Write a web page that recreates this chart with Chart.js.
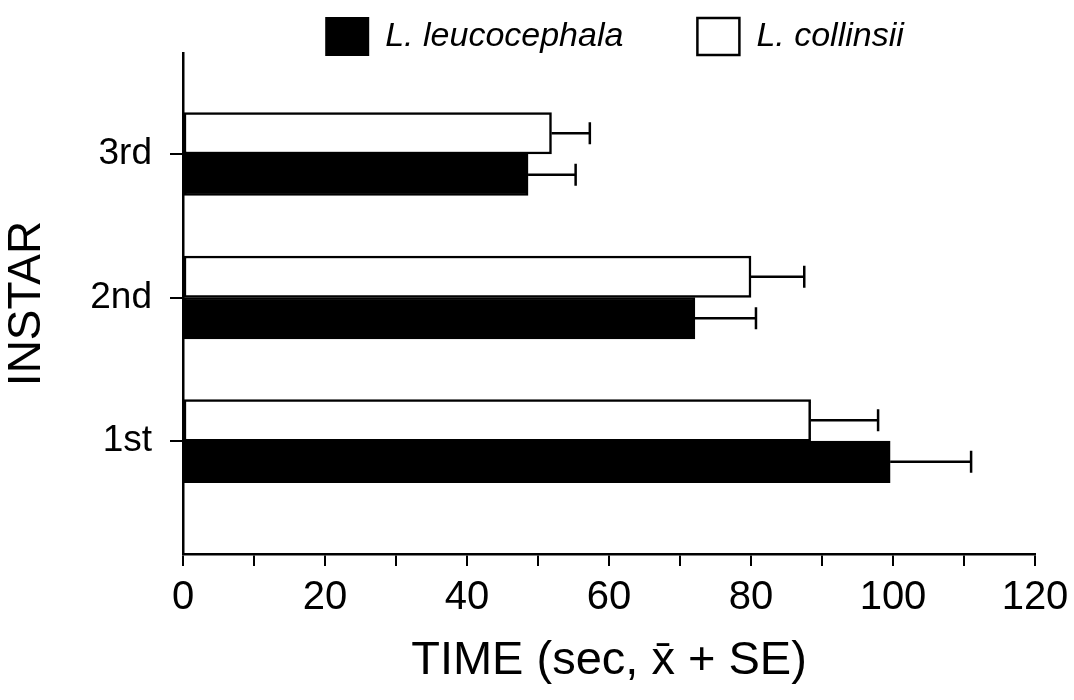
<!DOCTYPE html>
<html><head><meta charset="utf-8">
<script src="https://cdn.jsdelivr.net/npm/chart.js@4.4.1/dist/chart.umd.min.js"></script>
<style>html,body{margin:0;padding:0;background:#fff}#wrap{width:1074px;height:700px}</style>
</head><body><div id="wrap"><canvas id="c" width="1074" height="700"></canvas></div>
<script>
// ---- data ----
const categories = ['1st', '2nd', '3rd'];
const categoryPositions = [0, 1, 2];
const collinsiiLabel = 'L. collinsii';
const leucocephalaLabel = 'L. leucocephala';
const collinsiiMean = [88.4, 80.0, 51.9];
const collinsiiSE = [9.5, 7.5, 5.4];
const leucocephalaMean = [99.6, 72.1, 48.6];
const leucocephalaSE = [11.4, 8.6, 6.7];
const xTickLabels = [0, 20, 40, 60, 80, 100, 120];
const xTitle = 'TIME (sec, x\u0304 + SE)';
const yTitle = 'INSTAR';

Chart.defaults.font.family = '"Liberation Sans", Arial, Helvetica, sans-serif';
Chart.defaults.color = '#000';

const toPoints = (vals) => vals.map((v, i) => ({ x: v, y: categoryPositions[i] }));

const errorBars = {
  id: 'errorBars',
  afterDatasetsDraw(chart) {
    const ctx = chart.ctx;
    const xs = chart.scales.x;
    chart.data.datasets.forEach((ds, di) => {
      const meta = chart.getDatasetMeta(di);
      meta.data.forEach((bar, j) => {
        const v = ds.data[j].x;
        const e = ds.errors[j];
        const x0 = xs.getPixelForValue(v);
        const x1 = xs.getPixelForValue(v + e);
        const y = bar.y;
        ctx.save();
        ctx.strokeStyle = '#000';
        ctx.lineWidth = 2.5;
        ctx.beginPath();
        ctx.moveTo(x0, y); ctx.lineTo(x1, y);
        ctx.moveTo(x1, y - 11); ctx.lineTo(x1, y + 11);
        ctx.stroke();
        ctx.restore();
      });
    });
  }
};

const legendPlace = {
  id: 'legendPlace',
  afterLayout(chart) {
    const L = chart.legend;
    const pad = L.options.labels.padding;
    const dx = 615 - (L.left + L.right) / 2;
    L.left += dx; L.right += dx;
    L.top = 18 - pad; L.bottom = L.top + 140;
  }
};

new Chart(document.getElementById('c'), {
  type: 'bar',
  data: {
    datasets: [
      { label: collinsiiLabel, data: toPoints(collinsiiMean), errors: collinsiiSE,
        backgroundColor: '#fff', borderColor: '#000', borderWidth: 2.5 },
      { label: leucocephalaLabel, data: toPoints(leucocephalaMean), errors: leucocephalaSE,
        backgroundColor: '#000', borderColor: '#000', borderWidth: 2 }
    ]
  },
  options: {
    indexAxis: 'y',
    responsive: false,
    animation: false,
    barThickness: 41.5,
    borderSkipped: false,
    layout: { padding: { top: 0, left: 0, right: 39, bottom: 0 } },
    plugins: {
      tooltip: { enabled: false },
      legend: {
        position: 'top',
        maxHeight: 53,
        labels: {
          boxWidth: 42, boxHeight: 37, padding: 74, color: '#000',
          font: { size: 34, style: 'italic' },
          sort: (a, b) => b.datasetIndex - a.datasetIndex
        }
      }
    },
    scales: {
      x: {
        type: 'linear', min: 0, max: 120,
        ticks: { stepSize: 10, autoSkip: false, maxRotation: 0, padding: 8,
          font: { size: 40 }, color: '#000',
          callback: (v) => xTickLabels.includes(v) ? String(v) : '' },
        grid: { drawOnChartArea: false, tickLength: 12, color: '#000', lineWidth: 2 },
        border: { color: '#000', width: 2.5 },
        title: { display: true, text: xTitle, font: { size: 47 }, color: '#000', padding: { top: 0, bottom: 11 } },
        afterFit: (s) => { s.height = 146; s.paddingLeft = 0; s.paddingRight = 0; }
      },
      y: {
        type: 'linear', min: -0.787, max: 2.704, offset: false,
        afterBuildTicks: (s) => { s.ticks = categoryPositions.map(v => ({ value: v })); },
        ticks: { autoSkip: false, padding: 18, font: { size: 37 }, color: '#000',
          callback: (v) => categories[categoryPositions.indexOf(v)] ?? '' },
        grid: { offset: false, drawOnChartArea: false, tickLength: 13, color: '#000', lineWidth: 2 },
        border: { color: '#000', width: 2.5 },
        title: { display: true, text: yTitle, font: { size: 46 }, color: '#000', padding: { top: 0, bottom: 0 } },
        afterFit: (s) => { s.width = 183; s.paddingTop = 0; s.paddingBottom = 0; }
      }
    }
  },
  plugins: [errorBars, legendPlace]
});
</script>
</body></html>
